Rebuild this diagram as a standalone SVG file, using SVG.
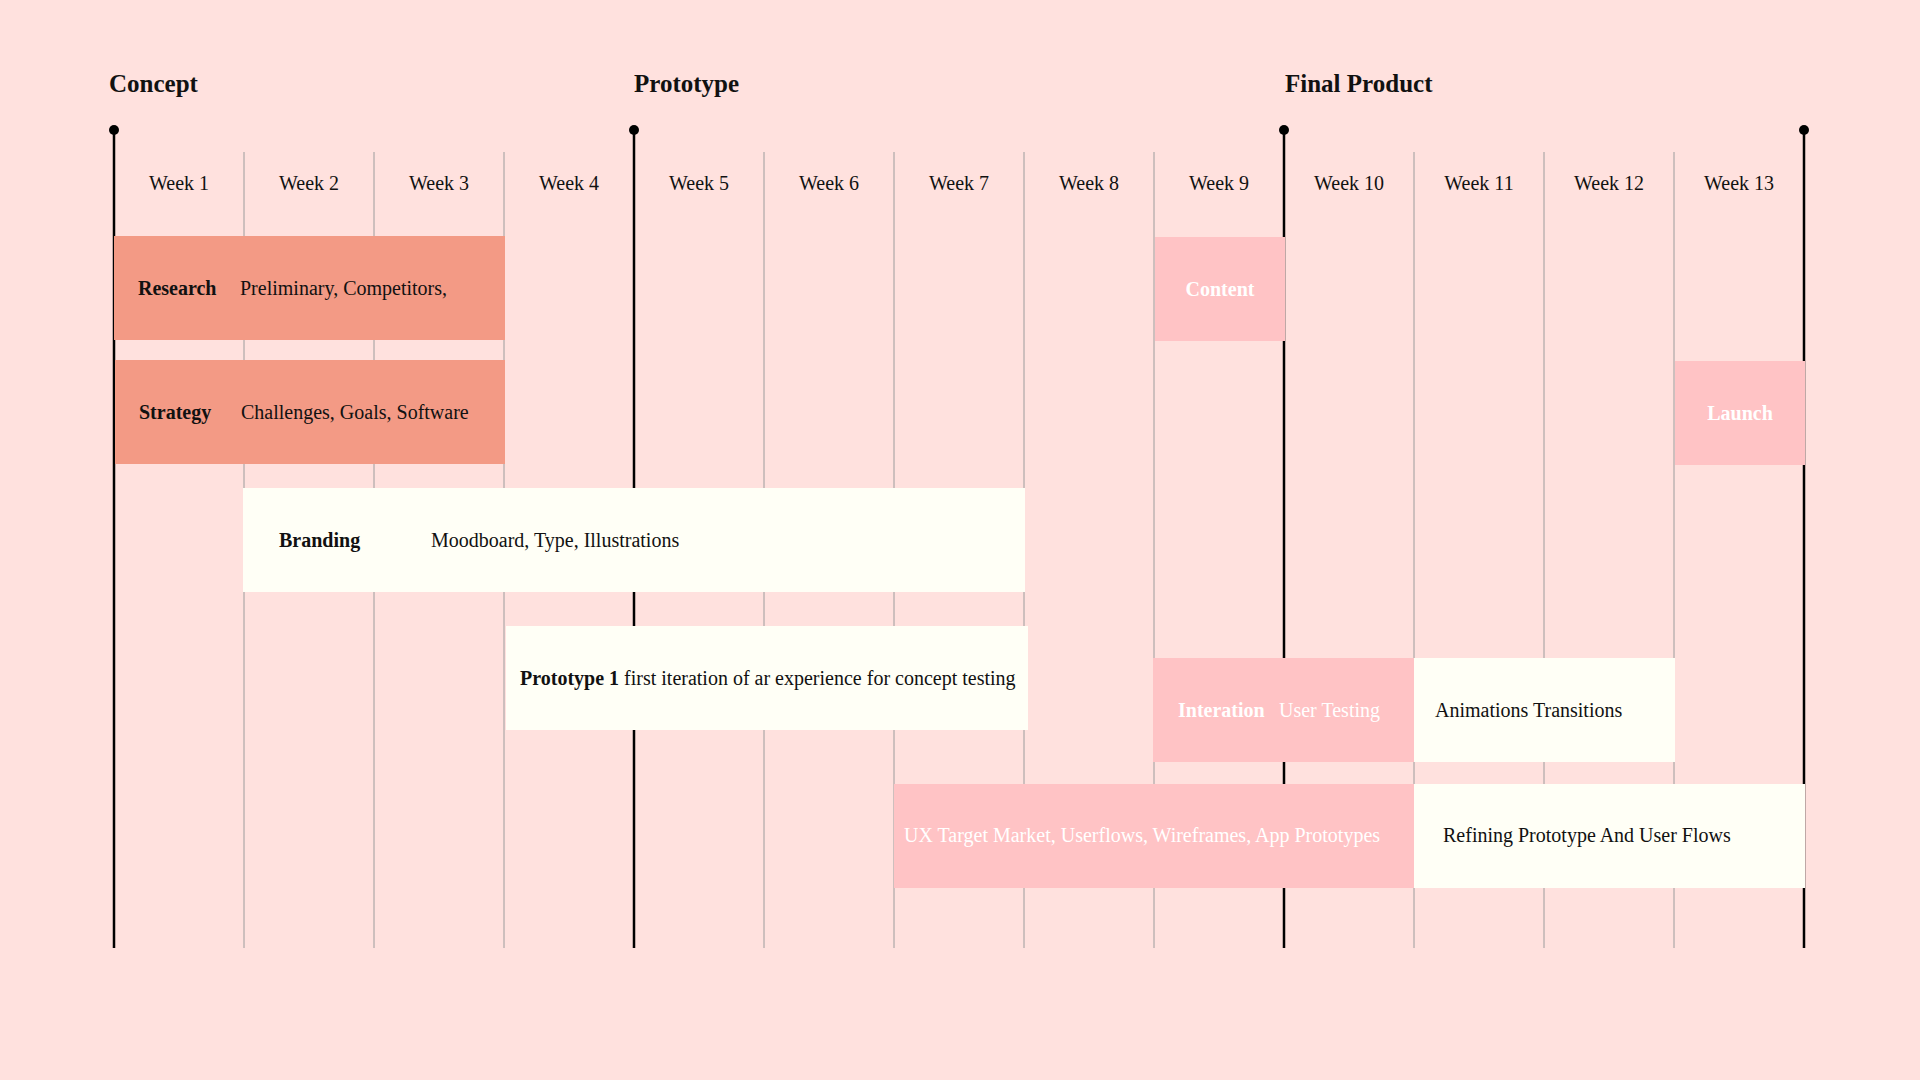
<svg xmlns="http://www.w3.org/2000/svg" width="1920" height="1080" viewBox="0 0 1920 1080">
<style>
.bg{fill:#FFE1DE}
.thin{stroke:#9c9c9c;stroke-width:1}
.thick{stroke:#000;stroke-width:2.5}
.dot{fill:#000}
.orange{fill:#F39A85}
.pink{fill:#FFC3C5}
.cream{fill:#FFFFF6}
text{font-family:"Liberation Serif","DejaVu Serif",serif;font-size:20px;fill:#111}
.title{font-size:25px;font-weight:bold}
.week{text-anchor:middle}
.b{font-weight:bold}
.w{fill:#fff}
.mid{text-anchor:middle}
</style>
<rect class="bg" x="0" y="0" width="1920" height="1080"/>
<g id="phase-titles">
<text class="title" x="109" y="92">Concept</text>
<text class="title" x="634" y="92">Prototype</text>
<text class="title" x="1285" y="92">Final  Product</text>
</g>
<g id="grid">
<line class="thin" x1="244" y1="152" x2="244" y2="948"/>
<line class="thin" x1="374" y1="152" x2="374" y2="948"/>
<line class="thin" x1="504" y1="152" x2="504" y2="948"/>
<line class="thin" x1="764" y1="152" x2="764" y2="948"/>
<line class="thin" x1="894" y1="152" x2="894" y2="948"/>
<line class="thin" x1="1024" y1="152" x2="1024" y2="948"/>
<line class="thin" x1="1154" y1="152" x2="1154" y2="948"/>
<line class="thin" x1="1414" y1="152" x2="1414" y2="948"/>
<line class="thin" x1="1544" y1="152" x2="1544" y2="948"/>
<line class="thin" x1="1674" y1="152" x2="1674" y2="948"/>
<line class="thick" x1="114" y1="130" x2="114" y2="948"/>
<line class="thick" x1="634" y1="130" x2="634" y2="948"/>
<line class="thick" x1="1284" y1="130" x2="1284" y2="948"/>
<line class="thick" x1="1804" y1="130" x2="1804" y2="948"/>
<circle class="dot" cx="114" cy="130" r="5"/>
<circle class="dot" cx="634" cy="130" r="5"/>
<circle class="dot" cx="1284" cy="130" r="5"/>
<circle class="dot" cx="1804" cy="130" r="5"/>
</g>
<g id="weeks">
<text class="week" x="179" y="190">Week 1</text>
<text class="week" x="309" y="190">Week 2</text>
<text class="week" x="439" y="190">Week 3</text>
<text class="week" x="569" y="190">Week 4</text>
<text class="week" x="699" y="190">Week 5</text>
<text class="week" x="829" y="190">Week 6</text>
<text class="week" x="959" y="190">Week 7</text>
<text class="week" x="1089" y="190">Week 8</text>
<text class="week" x="1219" y="190">Week 9</text>
<text class="week" x="1349" y="190">Week 10</text>
<text class="week" x="1479" y="190">Week 11</text>
<text class="week" x="1609" y="190">Week 12</text>
<text class="week" x="1739" y="190">Week 13</text>
</g>
<g id="research">
<rect class="orange" x="114" y="236" width="391" height="104"/>
<text class="b" x="138" y="295">Research</text>
<text x="240" y="295">Preliminary, Competitors,</text>
</g>
<g id="strategy">
<rect class="orange" x="115" y="360" width="390" height="104"/>
<text class="b" x="139" y="419">Strategy</text>
<text x="241" y="419">Challenges, Goals, Software</text>
</g>
<g id="content">
<rect class="pink" x="1155" y="237" width="130" height="104"/>
<text class="b w mid" x="1220" y="296">Content</text>
</g>
<g id="launch">
<rect class="pink" x="1675" y="361" width="130" height="104"/>
<text class="b w mid" x="1740" y="420">Launch</text>
</g>
<g id="branding">
<rect class="cream" x="243" y="488" width="782" height="104"/>
<text class="b" x="279" y="547">Branding</text>
<text x="431" y="547">Moodboard, Type, Illustrations</text>
</g>
<g id="prototype1">
<rect class="cream" x="506" y="626" width="522" height="104"/>
<text x="520" y="685"><tspan class="b">Prototype 1</tspan> first iteration of ar experience for concept testing</text>
</g>
<g id="interation">
<rect class="pink" x="1153" y="658" width="262" height="104"/>
<text class="b w" x="1178" y="717">Interation</text>
<text class="w" x="1279" y="717">User Testing</text>
</g>
<g id="animations">
<rect class="cream" x="1414" y="658" width="261" height="104"/>
<text x="1435" y="717">Animations Transitions</text>
</g>
<g id="ux">
<rect class="pink" x="894" y="784" width="521" height="104"/>
<text class="w" x="904" y="842">UX Target Market, Userflows, Wireframes, App Prototypes</text>
</g>
<g id="refining">
<rect class="cream" x="1414" y="784" width="391" height="104"/>
<text x="1443" y="842">Refining Prototype And User Flows</text>
</g>
</svg>
